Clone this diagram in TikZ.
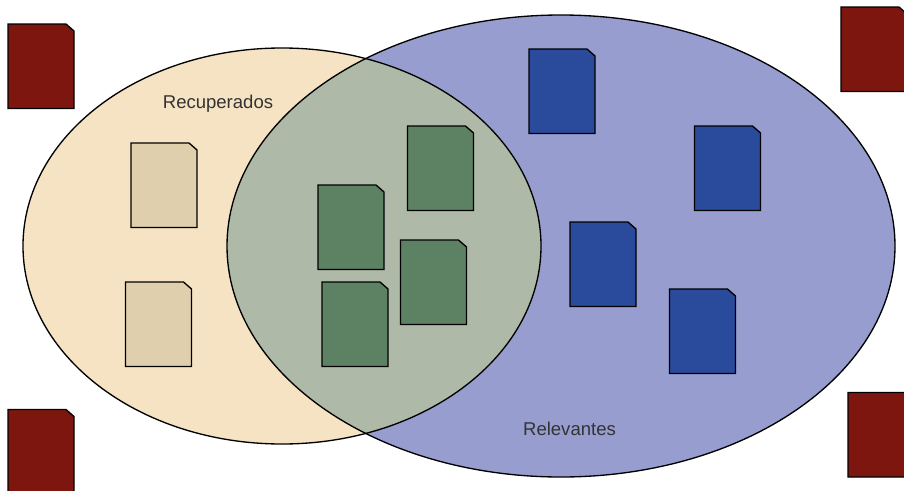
\documentclass[tikz,border=0pt]{standalone}
\usepackage{fontspec}
\setmainfont{Liberation Sans}
\definecolor{lefttan}{HTML}{F5E3C3}
\definecolor{rightblue}{HTML}{979DCF}
\definecolor{overlapgreen}{HTML}{AEB9A8}
\definecolor{docred}{HTML}{7E1610}
\definecolor{doctan}{HTML}{DFCFAC}
\definecolor{docgreen}{HTML}{5C8263}
\definecolor{docblue}{HTML}{2A4A9B}
\definecolor{labelgrey}{HTML}{333333}
\tikzset{
  setoutline/.style={draw=black,line width=1pt},
  doc/.pic={
    \path[fill=#1,draw=black,line width=1pt,line join=miter]
      (0,0) -- (58,0) -- (66,7) -- (66,84.5) -- (0,84.5) -- cycle;
  },
  setlabel/.style={font=\fontsize{13.9pt}{16pt}\selectfont,text=labelgrey,inner sep=0pt}
}
\begin{document}
\begin{tikzpicture}[x=0.75pt,y=-0.75pt]
\useasboundingbox (0,0) rectangle (904,490);
\clip (0,0) rectangle (904,490);
\fill[lefttan] (282,246) ellipse [x radius=259,y radius=198];
\fill[rightblue] (561,246) ellipse [x radius=334,y radius=231];
\begin{scope}
  \clip (282,246) ellipse [x radius=259,y radius=198];
  \fill[overlapgreen] (561,246) ellipse [x radius=334,y radius=231];
\end{scope}
\draw[setoutline] (282,246) ellipse [x radius=259,y radius=198];
\draw[setoutline] (561,246) ellipse [x radius=334,y radius=231];
% outside the sets
\pic at (8,24) {doc=docred};
\pic at (841,7) {doc=docred};
\pic at (848,392.5) {doc=docred};
\pic at (8,409.5) {doc=docred};
% retrieved only
\pic at (131,143) {doc=doctan};
\pic at (125.5,282) {doc=doctan};
% both
\pic at (407.5,126) {doc=docgreen};
\pic at (318,185) {doc=docgreen};
\pic at (400.5,240) {doc=docgreen};
\pic at (322,282) {doc=docgreen};
% relevant only
\pic at (529,49) {doc=docblue};
\pic at (694.5,126) {doc=docblue};
\pic at (570,222) {doc=docblue};
\pic at (669.5,289) {doc=docblue};
\node[setlabel] (recuperados) at (218,103.5) {Recuperados};
\node[setlabel] (relevantes) at (569.5,428.5) {Relevantes};
\end{tikzpicture}
\end{document}
